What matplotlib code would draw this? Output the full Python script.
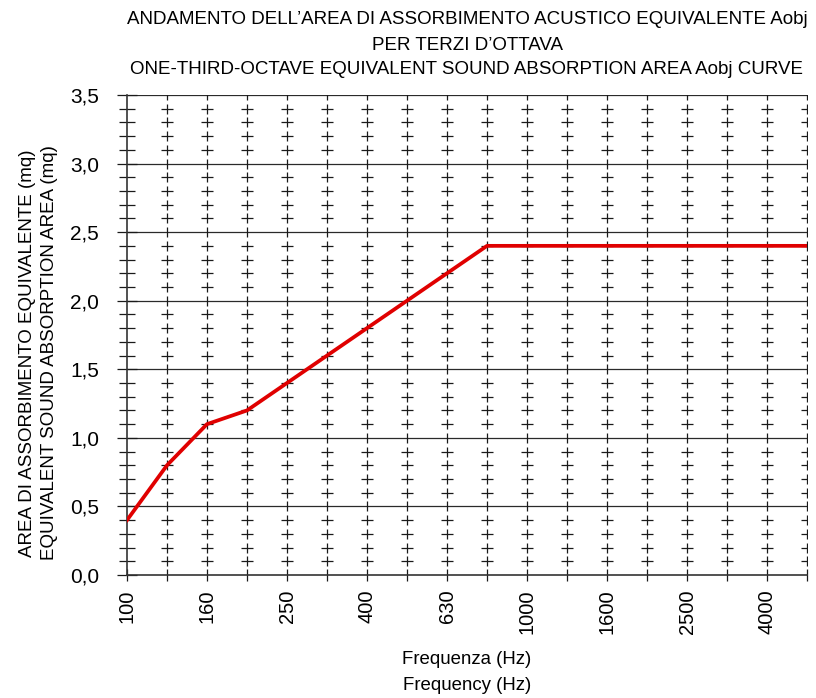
import matplotlib.pyplot as plt
import numpy as np

plt.rcParams['font.family'] = ['Liberation Sans', 'DejaVu Sans']

# One-third-octave bands and equivalent absorption area (mq)
bands = [100, 125, 160, 200, 250, 315, 400, 500, 630, 800,
         1000, 1250, 1600, 2000, 2500, 3150, 4000, 5000]
aobj = [0.4, 0.8, 1.1, 1.2, 1.4, 1.6, 1.8, 2.0, 2.2, 2.4,
        2.4, 2.4, 2.4, 2.4, 2.4, 2.4, 2.4, 2.4]
labelled_bands = [100, 160, 250, 400, 630, 1000, 1600, 2500, 4000]

fig = plt.figure(figsize=(8.16, 6.98), dpi=100, facecolor='white')
ax = fig.add_axes([127 / 816, 1 - 575 / 698, 680 / 816, 480 / 698])

x = np.arange(len(bands))
ax.set_xlim(0, len(bands) - 1)
ax.set_ylim(0, 3.5)

# major horizontal grid lines every 0.5
major_y = [0.5 * k for k in range(8)]
for yv in major_y[1:]:
    ax.axhline(yv, color='#2a2a2a', lw=0.9, zorder=1)

# small crosses at each band / 0.1 step, vertical ticks on the major lines
minor_y = [k / 10 for k in range(1, 35) if k % 5 != 0]
gx, gy = np.meshgrid(x[1:], minor_y)
ax.scatter(gx.ravel(), gy.ravel(), marker='_', s=85, color='#1a1a1a',
           linewidths=0.9, zorder=2)
ax.scatter(gx.ravel(), gy.ravel(), marker='|', s=50, color='#1a1a1a',
           linewidths=0.9, zorder=2)
mx, my = np.meshgrid(x[1:], major_y[1:])
ax.scatter(mx.ravel(), my.ravel(), marker='|', s=45, color='#1a1a1a',
           linewidths=0.9, zorder=2)

ax.plot(x, aobj, color='#e00000', lw=2.7, zorder=3)

# axes and ticks
for s in ['top', 'right']:
    ax.spines[s].set_visible(False)
for s in ['left', 'bottom']:
    ax.spines[s].set_color('#333333')
    ax.spines[s].set_linewidth(1.2)

ax.set_xticks(x)
ax.set_xticklabels([str(b) if b in labelled_bands else '' for b in bands],
                   rotation=90, fontsize=14.5)
ax.tick_params(axis='x', direction='inout', length=9, width=0.9, color='#1a1a1a', pad=6)
ax.set_yticks(major_y)
ax.set_yticklabels([f'{v:.1f}'.replace('.', ',') for v in major_y], fontsize=15)
ax.set_yticks(minor_y, minor=True)
ax.tick_params(axis='y', which='major', direction='inout', length=14, width=0.9,
               color='#1a1a1a', pad=13)
ax.tick_params(axis='y', which='minor', direction='inout', length=12, width=0.9,
               color='#1a1a1a')

cx = (127 + 807) / 2 / 816
fig.text(cx, 1 - 20 / 698, "ANDAMENTO DELL’AREA DI ASSORBIMENTO ACUSTICO EQUIVALENTE Aobj",
         ha='center', va='center', fontsize=13.5)
fig.text(cx, 1 - 45 / 698, "PER TERZI D’OTTAVA", ha='center', va='center', fontsize=13.5)
fig.text(cx, 1 - 70 / 698, "ONE-THIRD-OCTAVE EQUIVALENT SOUND ABSORPTION AREA Aobj CURVE",
         ha='center', va='center', fontsize=13.5)

fig.text(cx, 1 - 660 / 698, "Frequenza (Hz)", ha='center', va='center', fontsize=13.4)
fig.text(cx, 1 - 685 / 698, "Frequency (Hz)", ha='center', va='center', fontsize=13.4)

cy = 1 - 353 / 698
fig.text(28 / 816, cy, "AREA DI ASSORBIMENTO EQUIVALENTE (mq)", rotation=90,
         ha='center', va='center', fontsize=13.5)
fig.text(50 / 816, cy, "EQUIVALENT SOUND ABSORPTION AREA (mq)", rotation=90,
         ha='center', va='center', fontsize=13.5)

fig.savefig('out.png', dpi=100, facecolor='white')
